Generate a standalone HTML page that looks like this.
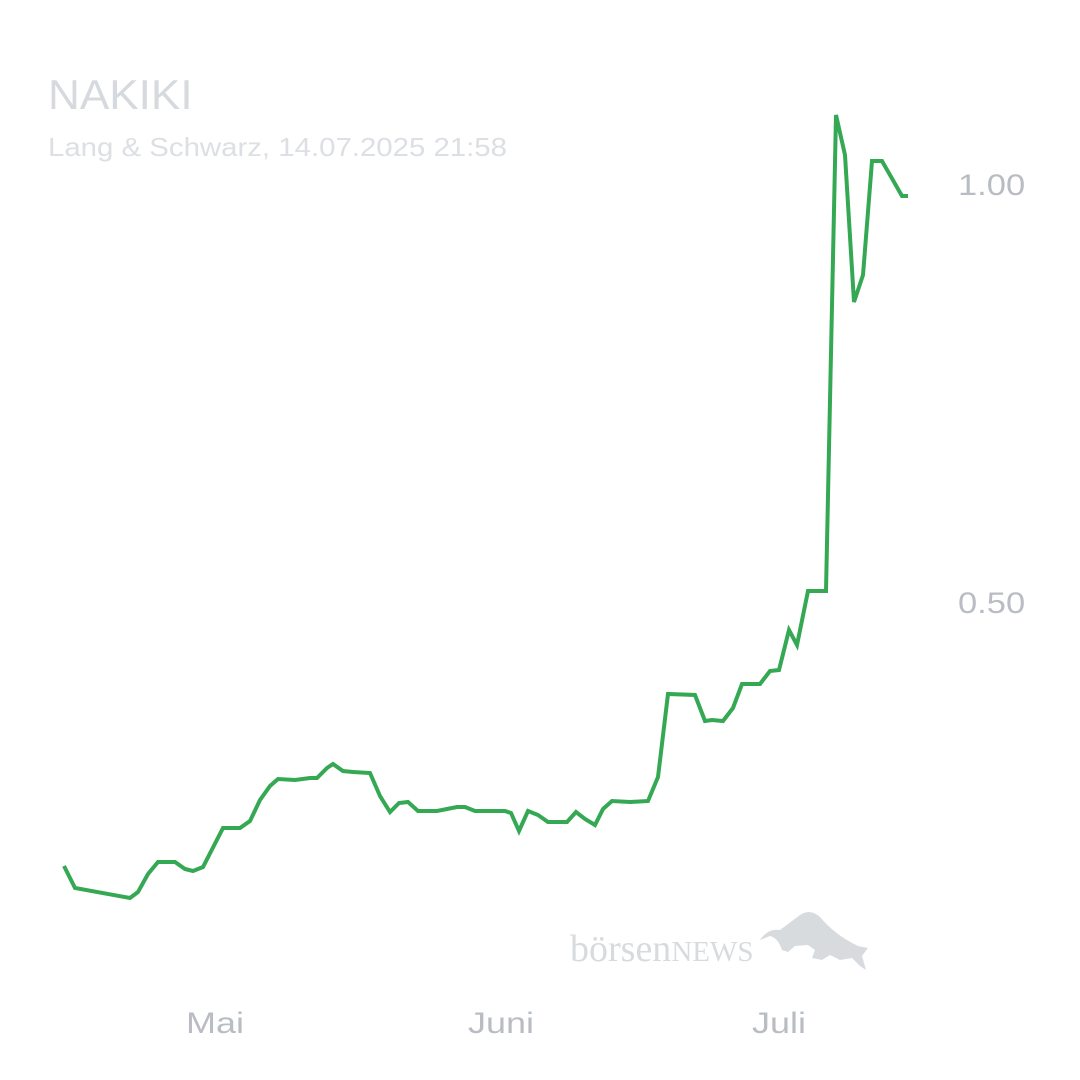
<!DOCTYPE html>
<html><head><meta charset="utf-8"><style>
html,body{margin:0;padding:0;background:#fff;}
body{width:1080px;height:1080px;position:relative;overflow:hidden;font-family:"Liberation Sans",sans-serif;}
.t{position:absolute;white-space:nowrap;transform-origin:0 0;}
</style></head><body>
<div class="t" style="left:48px;top:71px;font-size:42px;color:#d6d9dd;transform:scaleX(1.05);">NAKIKI</div>
<div class="t" style="left:48px;top:132px;font-size:26px;color:#dcdfe3;transform:scaleX(1.13);">Lang &amp; Schwarz, 14.07.2025 21:58</div>
<div class="t" style="left:958px;top:169px;font-size:30px;color:#b9bdc3;transform:scaleX(1.15);">1.00</div>
<div class="t" style="left:958px;top:587px;font-size:30px;color:#b9bdc3;transform:scaleX(1.15);">0.50</div>
<div class="t" style="left:186px;top:1007px;font-size:30px;color:#b9bdc3;transform:scaleX(1.2);">Mai</div>
<div class="t" style="left:468px;top:1007px;font-size:30px;color:#b9bdc3;transform:scaleX(1.2);">Juni</div>
<div class="t" style="left:752px;top:1007px;font-size:30px;color:#b9bdc3;transform:scaleX(1.2);">Juli</div>
<svg width="1080" height="1080" style="position:absolute;left:0;top:0">
<text x="570" y="961" font-family="Liberation Serif,serif" font-size="38" fill="#d8dbde">börsen<tspan font-size="29">NEWS</tspan></text>
<path d="M760,940 Q768,928 780,930 L800,915 Q810,908 820,917 Q835,935 858,946 L868,948 L862,956 L866,970 L860,966 L852,958 L840,960 L830,955 L822,960 L812,958 L815,950 L808,945 L795,946 L788,952 L782,950 Q778,938 770,936 Z" fill="#d8dbde"/>
<polyline fill="none" stroke="#34a853" stroke-width="4" stroke-linejoin="miter" points="64,866 75,888 130,898 138,892 148,874 158,862 175,862 185,869 193,871 203,867 223,828 240,828 250,821 260,800 270,786 278,779 295,780 310,778 317,778 327,768 333,764 343,771 353,772 370,773 380,796 390,812 399,803 408,802 418,811 437,811 447,809 457,807 465,807 475,811 505,811 511,813 519,831 528,811 538,815 548,822 567,822 576,812 585,819 595,825 603,809 612,801 630,802 648,801 658,777 668,694 695,695 705,721 712,720 723,721 733,708 742,684 760,684 770,671 779,670 789,630 797,645 808,591 826,591 836,115 845,155 854,302 863,275 872,161 882,161 902,196 908,196"/>
</svg>
</body></html>
